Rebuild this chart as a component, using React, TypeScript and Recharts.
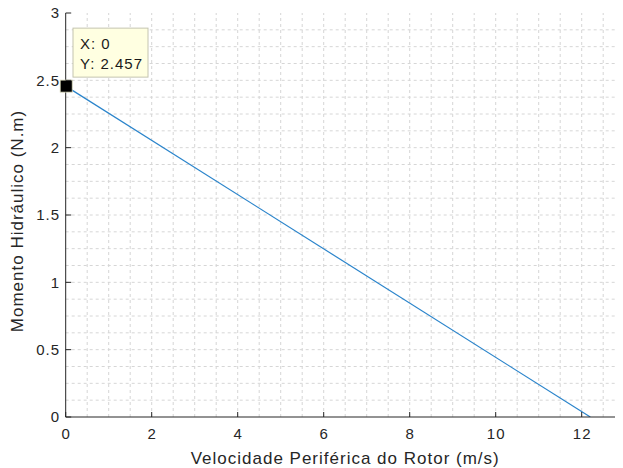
import React from 'react';
import { LineChart, Line, XAxis, YAxis, ReferenceLine, ReferenceDot } from 'recharts';

// ---- data ----
const velocity = [0, 12.2];
const torque = [2.457, 0];
const xTicks = [0, 2, 4, 6, 8, 10, 12];
const yTicks = [0, 0.5, 1, 1.5, 2, 2.5, 3];
const xGrid = [0.5, 1, 1.5, 2, 2.5, 3, 3.5, 4, 4.5, 5, 5.5, 6, 6.5, 7, 7.5, 8, 8.5, 9, 9.5, 10, 10.5, 11, 11.5, 12, 12.5];
const yGrid = [0.125, 0.25, 0.375, 0.5, 0.625, 0.75, 0.875, 1, 1.125, 1.25, 1.375, 1.5, 1.625, 1.75, 1.875, 2, 2.125, 2.25, 2.375, 2.5, 2.625, 2.75, 2.875];
const tipX = 0;
const tipY = 2.457;
const xLabel = 'Velocidade Periférica do Rotor (m/s)';
const yLabel = 'Momento Hidráulico (N.m)';

const data = velocity.map((v, i) => ({ x: v, y: torque[i] }));

// ---- styles ----
const FONT = '"Liberation Sans", Arial, Helvetica, sans-serif';
const AXIS = '#262626';
const TEXT = '#262626';
const GRID = '#d6d6d6';
const LINE = '#2a84cb';

const BottomTick = (props: any) => {
  const { x, y, payload } = props;
  return (
    <g>
      <line x1={x} x2={x} y1={y} y2={y - 5} stroke={AXIS} strokeWidth={1} />
      <text x={x + 0.5} y={y + 21.6} textAnchor="middle" fontSize={15} letterSpacing={1} fill={TEXT} fontFamily={FONT}>
        {String(payload.value)}
      </text>
    </g>
  );
};

const TopTick = (props: any) => {
  const { x, y } = props;
  return <line x1={x} x2={x} y1={y} y2={y + 5} stroke={AXIS} strokeWidth={1} />;
};

const LeftTick = (props: any) => {
  const { x, y, payload } = props;
  return (
    <g>
      <line x1={x} x2={x + 5.5} y1={y} y2={y} stroke={AXIS} strokeWidth={1} />
      <text x={x - 5.7} y={y} dy="0.36em" textAnchor="end" fontSize={15} letterSpacing={1} fill={TEXT} fontFamily={FONT}>
        {String(payload.value)}
      </text>
    </g>
  );
};

const XLabel = (props: any) => {
  const vb = props.viewBox || {};
  return (
    <text x={vb.x + vb.width / 2} y={vb.y + vb.height - 4} textAnchor="middle" fontSize={17} letterSpacing={1} fill={TEXT} fontFamily={FONT}>
      {xLabel}
    </text>
  );
};

const YLabel = (props: any) => {
  const vb = props.viewBox || {};
  const cx = vb.x + 22.8;
  const cy = vb.y + vb.height / 2 + 6;
  return (
    <text x={cx} y={cy} transform={`rotate(-90 ${cx} ${cy})`} textAnchor="middle" fontSize={17} letterSpacing={1} fill={TEXT} fontFamily={FONT}>
      {yLabel}
    </text>
  );
};

const DataTip = (props: any) => {
  const { cx, cy } = props;
  return (
    <g>
      <rect x={cx + 7.3} y={cy - 58} width={75} height={49} fill="#ffffe1" stroke="#c4c4b0" strokeWidth={1} />
      <text x={cx + 14.3} y={cy - 36.7} fontSize={15} letterSpacing={1} fill="#1a1a1a" fontFamily={FONT}>X: {String(tipX)}</text>
      <text x={cx + 14.3} y={cy - 16.7} fontSize={15} letterSpacing={1} fill="#1a1a1a" fontFamily={FONT}>Y: {String(tipY)}</text>
      <rect x={cx - 5.5} y={cy - 6} width={12} height={12} fill="#000000" stroke="#d8d8b8" strokeWidth={0.8} />
    </g>
  );
};

export default function App() {
  return (
    <div style={{ width: 623, height: 468, marginTop: -8, marginLeft: -8, overflow: 'hidden', background: '#ffffff' }}>
      <LineChart width={660} height={468} data={data} margin={{ top: 13, right: 35.3, left: 0, bottom: 0 }}>
        <XAxis
          dataKey="x"
          type="number"
          domain={[0, 13]}
          ticks={xTicks}
          interval={0}
          tickSize={0}
          tickMargin={0}
          height={51}
          tick={<BottomTick />}
          tickLine={false}
          axisLine={{ stroke: AXIS, strokeWidth: 1 }}
          allowDataOverflow
          label={(p: any) => <XLabel {...p} />}
        />
        <XAxis
          xAxisId="top"
          orientation="top"
          dataKey="x"
          type="number"
          domain={[0, 13]}
          ticks={xTicks}
          interval={0}
          tickSize={0}
          tickMargin={0}
          height={0}
          tick={<TopTick />}
          tickLine={false}
          axisLine={{ stroke: AXIS, strokeWidth: 1 }}
          allowDataOverflow
        />
        <YAxis
          type="number"
          domain={[0, 3]}
          ticks={yTicks}
          interval={0}
          tickSize={0}
          tickMargin={0}
          width={65.7}
          tick={<LeftTick />}
          tickLine={false}
          axisLine={{ stroke: AXIS, strokeWidth: 1 }}
          allowDataOverflow
          label={(p: any) => <YLabel {...p} />}
        />
        {xGrid.map((v) => (
          <ReferenceLine key={'gx' + v} x={v} stroke={GRID} strokeDasharray="3 3" strokeWidth={1} ifOverflow="visible" />
        ))}
        {yGrid.map((v) => (
          <ReferenceLine key={'gy' + v} y={v} stroke={GRID} strokeDasharray="3 3" strokeWidth={1} ifOverflow="visible" />
        ))}
        <Line
          dataKey="y"
          stroke={LINE}
          strokeWidth={1.2}
          dot={false}
          activeDot={false}
          isAnimationActive={false}
        />
        <ReferenceDot x={tipX} y={tipY} ifOverflow="visible" shape={(p: any) => <DataTip {...p} />} />
      </LineChart>
    </div>
  );
}
